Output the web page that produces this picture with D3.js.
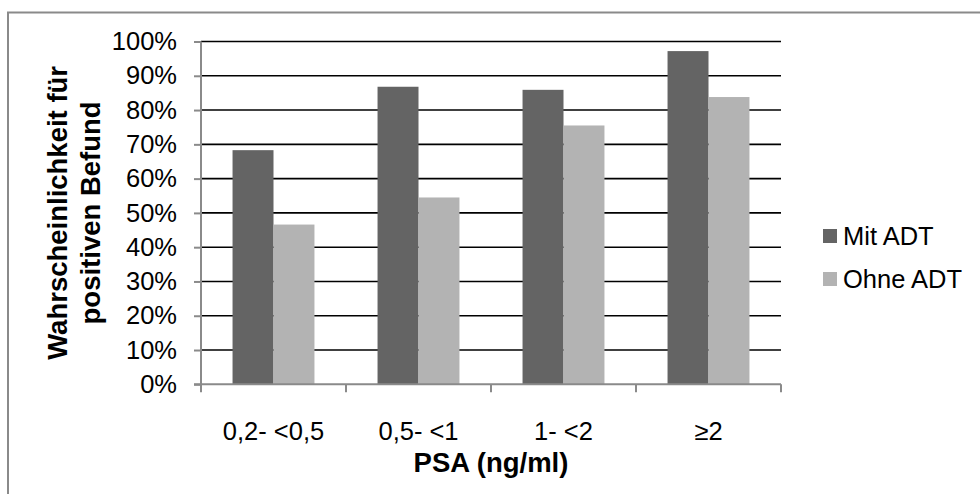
<!DOCTYPE html>
<html>
<head>
<meta charset="utf-8">
<script src="https://d3js.org/d3.v7.min.js"></script>
<style>
  body { margin: 0; background: #fff; }
  svg { display: block; font-family: "Liberation Sans", Arial, sans-serif; }
</style>
</head>
<body>
<svg id="chart" width="980" height="494"></svg>
<script>
// chart data
const categories = ['0,2- <0,5', '0,5- <1', '1- <2', '≥2'];
const seriesNames = ['Mit ADT', 'Ohne ADT'];
const mitADT = [0.683, 0.868, 0.859, 0.972];
const ohneADT = [0.466, 0.545, 0.755, 0.838];
const yTicks = [0, 0.1, 0.2, 0.3, 0.4, 0.5, 0.6, 0.7, 0.8, 0.9, 1.0];
const colors = ['#646464', '#b3b3b3'];

const svg = d3.select('#chart');

// outer frame
svg.append('rect')
    .attr('x', 8).attr('y', 12.5)
    .attr('width', 990).attr('height', 500)
    .attr('fill', 'none')
    .attr('stroke', '#8a8a8a')
    .attr('stroke-width', 2);

const plot = { left: 201, right: 781, top: 41.5, bottom: 384.3 };

const x0 = d3.scaleBand()
    .domain(categories)
    .range([plot.left, plot.right]);

const x1 = d3.scaleBand()
    .domain(seriesNames)
    .range([0, x0.bandwidth()])
    .paddingOuter(0.77);

const y = d3.scaleLinear()
    .domain([0, 1])
    .range([plot.bottom, plot.top]);

// gridlines
svg.append('g')
    .selectAll('line')
    .data(yTicks.filter(d => d > 0))
    .enter()
    .append('line')
    .attr('x1', plot.left)
    .attr('x2', plot.right)
    .attr('y1', d => y(d))
    .attr('y2', d => y(d))
    .attr('stroke', '#000')
    .attr('stroke-width', 1.6);

// bars
const rows = categories.map((c, i) => ({ cat: c, values: [mitADT[i], ohneADT[i]] }));

svg.append('g')
    .selectAll('g')
    .data(rows)
    .enter()
    .append('g')
    .attr('transform', d => `translate(${x0(d.cat)},0)`)
    .selectAll('rect')
    .data(d => d.values.map((v, j) => ({ name: seriesNames[j], value: v, idx: j })))
    .enter()
    .append('rect')
    .attr('x', d => x1(d.name))
    .attr('width', x1.bandwidth())
    .attr('y', d => y(d.value))
    .attr('height', d => y(0) - y(d.value))
    .attr('fill', d => colors[d.idx]);

// y axis
const yAxis = svg.append('g')
    .attr('transform', `translate(${plot.left},0)`)
    .call(d3.axisLeft(y)
        .tickValues(yTicks)
        .tickFormat(d3.format('.0%'))
        .tickSize(7)
        .tickPadding(17));
yAxis.select('.domain').remove();
yAxis.selectAll('.tick line').attr('stroke', '#8a8a8a').attr('stroke-width', 2);
yAxis.selectAll('.tick text')
    .attr('font-size', 25.5)
    .attr('fill', '#000')
    .style('font-family', '"Liberation Sans", Arial, sans-serif');
yAxis.append('line')
    .attr('x1', 0).attr('x2', 0)
    .attr('y1', plot.top).attr('y2', plot.bottom)
    .attr('stroke', '#8a8a8a').attr('stroke-width', 2);

// x axis
const xAxis = svg.append('g')
    .attr('transform', `translate(0,${plot.bottom})`)
    .call(d3.axisBottom(x0).tickSize(0).tickPadding(38));
xAxis.select('.domain').remove();
xAxis.selectAll('.tick text')
    .attr('font-size', 25.5)
    .attr('fill', '#000')
    .style('font-family', '"Liberation Sans", Arial, sans-serif');
xAxis.append('line')
    .attr('x1', plot.left - 7).attr('x2', plot.right)
    .attr('y1', 0).attr('y2', 0)
    .attr('stroke', '#8a8a8a').attr('stroke-width', 2);
// category boundary ticks
xAxis.selectAll('.bound')
    .data(categories.map(c => x0(c)).concat([plot.right]))
    .enter()
    .append('line')
    .attr('class', 'bound')
    .attr('x1', d => d).attr('x2', d => d)
    .attr('y1', 0).attr('y2', 8)
    .attr('stroke', '#8a8a8a').attr('stroke-width', 2);

// axis titles
svg.append('text')
    .attr('x', (plot.left + plot.right) / 2)
    .attr('y', 472)
    .attr('text-anchor', 'middle')
    .attr('font-size', 27.5)
    .attr('font-weight', 'bold')
    .text('PSA (ng/ml)');

const yTitle = svg.append('text')
    .attr('transform', `translate(0,${(plot.top + plot.bottom) / 2}) rotate(-90)`)
    .attr('text-anchor', 'middle')
    .attr('font-size', 27.5)
    .attr('font-weight', 'bold');
yTitle.append('tspan').attr('x', 0).attr('y', 67).text('Wahrscheinlichkeit für');
yTitle.append('tspan').attr('x', 0).attr('y', 100).text('positiven Befund');

// legend
const legend = svg.append('g')
    .selectAll('g')
    .data(seriesNames)
    .enter()
    .append('g')
    .attr('transform', (d, i) => `translate(823,${236 + i * 43})`);
legend.append('rect')
    .attr('x', 0).attr('y', -7)
    .attr('width', 14).attr('height', 14)
    .attr('fill', (d, i) => colors[i]);
legend.append('text')
    .attr('x', 20)
    .attr('y', 9)
    .attr('font-size', 25.5)
    .text(d => d);
</script>
</body>
</html>
